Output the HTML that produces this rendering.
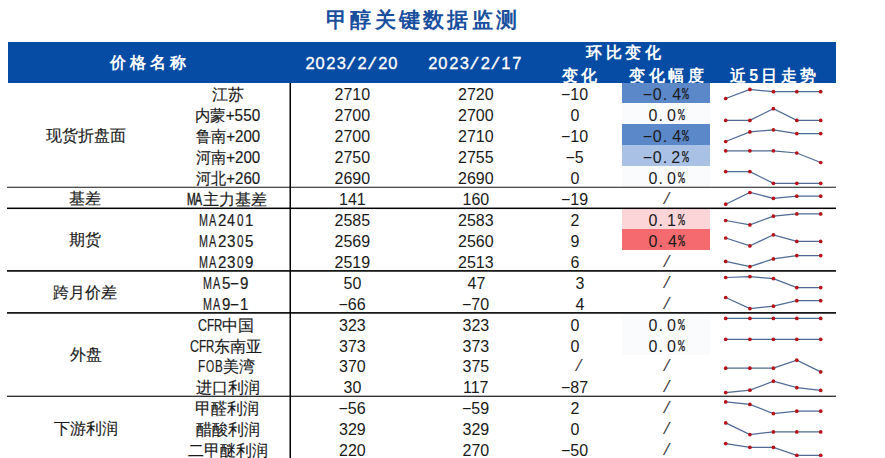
<!DOCTYPE html>
<html><head><meta charset="utf-8"><style>
html,body{margin:0;padding:0;background:#fff;width:885px;height:458px;overflow:hidden;position:relative}
body{font-family:"Liberation Sans",sans-serif}
.a{position:absolute;white-space:nowrap;line-height:20px;transform-origin:0 0}
</style></head><body>

<div class="a" style="left:8px;top:41.5px;width:828px;height:41.5px;background:#064ca5"></div>
<div class="a" style="left:326.00px;top:9.50px;font:bold 21px 'Liberation Sans',sans-serif;color:#1a4f9e;line-height:20px;letter-spacing:3.29px;">甲醇关键数据监测</div>
<div class="a" style="left:110.10px;top:53.10px;font:bold 16px 'Liberation Sans',sans-serif;color:#fff;line-height:20px;letter-spacing:4.10px;">价格名称</div>
<div class="a" style="left:305.50px;top:53.30px;font:16.5px 'Liberation Sans',sans-serif;color:#fff;-webkit-text-stroke:0.3px #fff;line-height:20px;">2</div>
<div class="a" style="left:315.40px;top:53.30px;font:16.5px 'Liberation Sans',sans-serif;color:#fff;-webkit-text-stroke:0.3px #fff;line-height:20px;">0</div>
<div class="a" style="left:326.30px;top:53.30px;font:16.5px 'Liberation Sans',sans-serif;color:#fff;-webkit-text-stroke:0.3px #fff;line-height:20px;">2</div>
<div class="a" style="left:336.70px;top:53.30px;font:16.5px 'Liberation Sans',sans-serif;color:#fff;-webkit-text-stroke:0.3px #fff;line-height:20px;">3</div>
<div class="a" style="left:346.10px;top:53.30px;font:17px 'Liberation Mono',monospace;color:#fff;-webkit-text-stroke:0.4px #fff;margin-top:2px;line-height:20px;">/</div>
<div class="a" style="left:357.50px;top:53.30px;font:16.5px 'Liberation Sans',sans-serif;color:#fff;-webkit-text-stroke:0.3px #fff;line-height:20px;">2</div>
<div class="a" style="left:366.90px;top:53.30px;font:17px 'Liberation Mono',monospace;color:#fff;-webkit-text-stroke:0.4px #fff;margin-top:2px;line-height:20px;">/</div>
<div class="a" style="left:378.30px;top:53.30px;font:16.5px 'Liberation Sans',sans-serif;color:#fff;-webkit-text-stroke:0.3px #fff;line-height:20px;">2</div>
<div class="a" style="left:388.20px;top:53.30px;font:16.5px 'Liberation Sans',sans-serif;color:#fff;-webkit-text-stroke:0.3px #fff;line-height:20px;">0</div>
<div class="a" style="left:428.35px;top:53.30px;font:16.5px 'Liberation Sans',sans-serif;color:#fff;-webkit-text-stroke:0.3px #fff;line-height:20px;">2</div>
<div class="a" style="left:438.35px;top:53.30px;font:16.5px 'Liberation Sans',sans-serif;color:#fff;-webkit-text-stroke:0.3px #fff;line-height:20px;">0</div>
<div class="a" style="left:449.35px;top:53.30px;font:16.5px 'Liberation Sans',sans-serif;color:#fff;-webkit-text-stroke:0.3px #fff;line-height:20px;">2</div>
<div class="a" style="left:459.85px;top:53.30px;font:16.5px 'Liberation Sans',sans-serif;color:#fff;-webkit-text-stroke:0.3px #fff;line-height:20px;">3</div>
<div class="a" style="left:469.35px;top:53.30px;font:17px 'Liberation Mono',monospace;color:#fff;-webkit-text-stroke:0.4px #fff;margin-top:2px;line-height:20px;">/</div>
<div class="a" style="left:480.85px;top:53.30px;font:16.5px 'Liberation Sans',sans-serif;color:#fff;-webkit-text-stroke:0.3px #fff;line-height:20px;">2</div>
<div class="a" style="left:490.35px;top:53.30px;font:17px 'Liberation Mono',monospace;color:#fff;-webkit-text-stroke:0.4px #fff;margin-top:2px;line-height:20px;">/</div>
<div class="a" style="left:501.35px;top:53.30px;font:16.5px 'Liberation Sans',sans-serif;color:#fff;-webkit-text-stroke:0.3px #fff;line-height:20px;">1</div>
<div class="a" style="left:512.35px;top:53.30px;font:16.5px 'Liberation Sans',sans-serif;color:#fff;-webkit-text-stroke:0.3px #fff;line-height:20px;">7</div>
<div class="a" style="left:585.70px;top:43.00px;font:bold 16px 'Liberation Sans',sans-serif;color:#fff;line-height:20px;letter-spacing:3.83px;">环比变化</div>
<div class="a" style="left:561.80px;top:66.20px;font:bold 16px 'Liberation Sans',sans-serif;color:#fff;line-height:20px;letter-spacing:3.20px;">变化</div>
<div class="a" style="left:628.60px;top:66.20px;font:bold 16px 'Liberation Sans',sans-serif;color:#fff;line-height:20px;letter-spacing:3.93px;">变化幅度</div>
<div class="a" style="left:730.10px;top:66.10px;font:bold 16px 'Liberation Sans',sans-serif;color:#fff;line-height:20px;letter-spacing:3.22px;">近5日走势</div>
<div class="a" style="left:622px;top:82.50px;width:88px;height:20.93px;background:#5b88c9"></div>
<div class="a" style="left:622px;top:103.43px;width:88px;height:20.93px;background:#fafbfd"></div>
<div class="a" style="left:622px;top:124.36px;width:88px;height:20.93px;background:#5b88c9"></div>
<div class="a" style="left:622px;top:145.29px;width:88px;height:20.93px;background:#a9c1e5"></div>
<div class="a" style="left:622px;top:166.22px;width:88px;height:20.93px;background:#fafbfd"></div>
<div class="a" style="left:622px;top:208.08px;width:88px;height:20.93px;background:#fbd5d8"></div>
<div class="a" style="left:622px;top:229.01px;width:88px;height:20.93px;background:#f46a6e"></div>
<div class="a" style="left:622px;top:312.73px;width:88px;height:20.93px;background:#fafbfd"></div>
<div class="a" style="left:622px;top:333.66px;width:88px;height:20.93px;background:#fafbfd"></div>
<svg class="a" style="left:0;top:0" width="885" height="458"><rect x="7" y="186.7" width="829" height="1.2" fill="#3c3c3c"/><rect x="7" y="207.55" width="829" height="1.5" fill="#000"/><rect x="7" y="270.1" width="829" height="1.6" fill="#000"/><rect x="7" y="312.1" width="829" height="1.6" fill="#000"/><rect x="7" y="395.65" width="829" height="1.3" fill="#2a2a2a"/><rect x="289.5" y="83" width="1.5" height="376" fill="#000"/></svg>
<div class="a" style="left:45.80px;top:126.22px;font:500 16px 'Liberation Sans',sans-serif;color:#1a1a1a;-webkit-text-stroke:0.15px #1a1a1a;line-height:20px;">现货折盘面</div>
<div class="a" style="left:69.30px;top:188.52px;font:500 16px 'Liberation Sans',sans-serif;color:#1a1a1a;-webkit-text-stroke:0.15px #1a1a1a;line-height:20px;">基差</div>
<div class="a" style="left:68.80px;top:230.38px;font:500 16px 'Liberation Sans',sans-serif;color:#1a1a1a;-webkit-text-stroke:0.15px #1a1a1a;line-height:20px;">期货</div>
<div class="a" style="left:53.30px;top:282.70px;font:500 16px 'Liberation Sans',sans-serif;color:#1a1a1a;-webkit-text-stroke:0.15px #1a1a1a;line-height:20px;">跨月价差</div>
<div class="a" style="left:69.80px;top:345.49px;font:500 16px 'Liberation Sans',sans-serif;color:#1a1a1a;-webkit-text-stroke:0.15px #1a1a1a;line-height:20px;">外盘</div>
<div class="a" style="left:53.80px;top:418.74px;font:500 16px 'Liberation Sans',sans-serif;color:#1a1a1a;-webkit-text-stroke:0.15px #1a1a1a;line-height:20px;">下游利润</div>
<div class="a" style="left:211.80px;top:85.40px;font:500 16px 'Liberation Sans',sans-serif;color:#1a1a1a;-webkit-text-stroke:0.15px #1a1a1a;line-height:20px;">江苏</div>
<div class="a" style="left:334.50px;top:85.40px;font:16px 'Liberation Sans',sans-serif;color:#1a1a1a;line-height:20px;">2710</div>
<div class="a" style="left:458.00px;top:85.40px;font:16px 'Liberation Sans',sans-serif;color:#1a1a1a;line-height:20px;">2720</div>
<div class="a" style="left:561.00px;top:85.40px;font:16px 'Liberation Sans',sans-serif;color:#1a1a1a;line-height:20px;">−10</div>
<div class="a" style="left:642.80px;top:85.40px;font:16px 'Liberation Sans',sans-serif;color:#1a1a1a;line-height:20px;">−</div>
<div class="a" style="left:652.80px;top:85.40px;font:16px 'Liberation Sans',sans-serif;color:#1a1a1a;line-height:20px;">0</div>
<div class="a" style="left:662.70px;top:85.40px;font:16px 'Liberation Sans',sans-serif;color:#1a1a1a;line-height:20px;">.</div>
<div class="a" style="left:672.30px;top:85.40px;font:16px 'Liberation Sans',sans-serif;color:#1a1a1a;line-height:20px;">4</div>
<div class="a" style="left:682.10px;top:85.40px;font:16px 'Liberation Mono',monospace;color:#1a1a1a;-webkit-text-stroke:0.25px #1a1a1a;line-height:20px;transform:scaleX(0.7100);">%</div>
<div class="a" style="left:194.54px;top:106.33px;font:500 16px 'Liberation Sans',sans-serif;color:#1a1a1a;-webkit-text-stroke:0.15px #1a1a1a;line-height:20px;transform:scaleX(0.9582);">内蒙+550</div>
<div class="a" style="left:334.50px;top:106.33px;font:16px 'Liberation Sans',sans-serif;color:#1a1a1a;line-height:20px;">2700</div>
<div class="a" style="left:458.00px;top:106.33px;font:16px 'Liberation Sans',sans-serif;color:#1a1a1a;line-height:20px;">2700</div>
<div class="a" style="left:570.50px;top:106.33px;font:16px 'Liberation Sans',sans-serif;color:#1a1a1a;line-height:20px;">0</div>
<div class="a" style="left:648.50px;top:106.33px;font:16px 'Liberation Sans',sans-serif;color:#1a1a1a;line-height:20px;">0</div>
<div class="a" style="left:658.40px;top:106.33px;font:16px 'Liberation Sans',sans-serif;color:#1a1a1a;line-height:20px;">.</div>
<div class="a" style="left:667.00px;top:106.33px;font:16px 'Liberation Sans',sans-serif;color:#1a1a1a;line-height:20px;">0</div>
<div class="a" style="left:677.80px;top:106.33px;font:16px 'Liberation Mono',monospace;color:#1a1a1a;-webkit-text-stroke:0.25px #1a1a1a;line-height:20px;transform:scaleX(0.7100);">%</div>
<div class="a" style="left:195.50px;top:127.26px;font:500 16px 'Liberation Sans',sans-serif;color:#1a1a1a;-webkit-text-stroke:0.15px #1a1a1a;line-height:20px;transform:scaleX(0.9441);">鲁南+200</div>
<div class="a" style="left:334.50px;top:127.26px;font:16px 'Liberation Sans',sans-serif;color:#1a1a1a;line-height:20px;">2700</div>
<div class="a" style="left:458.00px;top:127.26px;font:16px 'Liberation Sans',sans-serif;color:#1a1a1a;line-height:20px;">2710</div>
<div class="a" style="left:561.00px;top:127.26px;font:16px 'Liberation Sans',sans-serif;color:#1a1a1a;line-height:20px;">−10</div>
<div class="a" style="left:642.80px;top:127.26px;font:16px 'Liberation Sans',sans-serif;color:#1a1a1a;line-height:20px;">−</div>
<div class="a" style="left:652.80px;top:127.26px;font:16px 'Liberation Sans',sans-serif;color:#1a1a1a;line-height:20px;">0</div>
<div class="a" style="left:662.70px;top:127.26px;font:16px 'Liberation Sans',sans-serif;color:#1a1a1a;line-height:20px;">.</div>
<div class="a" style="left:672.30px;top:127.26px;font:16px 'Liberation Sans',sans-serif;color:#1a1a1a;line-height:20px;">4</div>
<div class="a" style="left:682.10px;top:127.26px;font:16px 'Liberation Mono',monospace;color:#1a1a1a;-webkit-text-stroke:0.25px #1a1a1a;line-height:20px;transform:scaleX(0.7100);">%</div>
<div class="a" style="left:195.50px;top:148.19px;font:500 16px 'Liberation Sans',sans-serif;color:#1a1a1a;-webkit-text-stroke:0.15px #1a1a1a;line-height:20px;transform:scaleX(0.9441);">河南+200</div>
<div class="a" style="left:334.50px;top:148.19px;font:16px 'Liberation Sans',sans-serif;color:#1a1a1a;line-height:20px;">2750</div>
<div class="a" style="left:458.00px;top:148.19px;font:16px 'Liberation Sans',sans-serif;color:#1a1a1a;line-height:20px;">2755</div>
<div class="a" style="left:565.50px;top:148.19px;font:16px 'Liberation Sans',sans-serif;color:#1a1a1a;line-height:20px;">−5</div>
<div class="a" style="left:642.80px;top:148.19px;font:16px 'Liberation Sans',sans-serif;color:#1a1a1a;line-height:20px;">−</div>
<div class="a" style="left:652.80px;top:148.19px;font:16px 'Liberation Sans',sans-serif;color:#1a1a1a;line-height:20px;">0</div>
<div class="a" style="left:662.70px;top:148.19px;font:16px 'Liberation Sans',sans-serif;color:#1a1a1a;line-height:20px;">.</div>
<div class="a" style="left:671.30px;top:148.19px;font:16px 'Liberation Sans',sans-serif;color:#1a1a1a;line-height:20px;">2</div>
<div class="a" style="left:682.10px;top:148.19px;font:16px 'Liberation Mono',monospace;color:#1a1a1a;-webkit-text-stroke:0.25px #1a1a1a;line-height:20px;transform:scaleX(0.7100);">%</div>
<div class="a" style="left:195.50px;top:169.12px;font:500 16px 'Liberation Sans',sans-serif;color:#1a1a1a;-webkit-text-stroke:0.15px #1a1a1a;line-height:20px;transform:scaleX(0.9441);">河北+260</div>
<div class="a" style="left:334.50px;top:169.12px;font:16px 'Liberation Sans',sans-serif;color:#1a1a1a;line-height:20px;">2690</div>
<div class="a" style="left:458.00px;top:169.12px;font:16px 'Liberation Sans',sans-serif;color:#1a1a1a;line-height:20px;">2690</div>
<div class="a" style="left:570.50px;top:169.12px;font:16px 'Liberation Sans',sans-serif;color:#1a1a1a;line-height:20px;">0</div>
<div class="a" style="left:648.50px;top:169.12px;font:16px 'Liberation Sans',sans-serif;color:#1a1a1a;line-height:20px;">0</div>
<div class="a" style="left:658.40px;top:169.12px;font:16px 'Liberation Sans',sans-serif;color:#1a1a1a;line-height:20px;">.</div>
<div class="a" style="left:667.00px;top:169.12px;font:16px 'Liberation Sans',sans-serif;color:#1a1a1a;line-height:20px;">0</div>
<div class="a" style="left:677.80px;top:169.12px;font:16px 'Liberation Mono',monospace;color:#1a1a1a;-webkit-text-stroke:0.25px #1a1a1a;line-height:20px;transform:scaleX(0.7100);">%</div>
<div class="a" style="left:186.50px;top:190.05px;font:16px 'Liberation Sans',sans-serif;color:#1a1a1a;-webkit-text-stroke:0.5px #1a1a1a;line-height:20px;transform:scaleX(0.6545);">M</div>
<div class="a" style="left:194.65px;top:190.05px;font:16px 'Liberation Sans',sans-serif;color:#1a1a1a;-webkit-text-stroke:0.5px #1a1a1a;line-height:20px;transform:scaleX(0.6545);">A</div>
<div class="a" style="left:202.50px;top:190.05px;font:500 16px 'Liberation Sans',sans-serif;color:#1a1a1a;-webkit-text-stroke:0.15px #1a1a1a;line-height:20px;">主力基差</div>
<div class="a" style="left:339.00px;top:190.05px;font:16px 'Liberation Sans',sans-serif;color:#1a1a1a;line-height:20px;">141</div>
<div class="a" style="left:462.50px;top:190.05px;font:16px 'Liberation Sans',sans-serif;color:#1a1a1a;line-height:20px;">160</div>
<div class="a" style="left:561.00px;top:190.05px;font:16px 'Liberation Sans',sans-serif;color:#1a1a1a;line-height:20px;">−19</div>
<div class="a" style="left:662.00px;top:190.05px;font:16px 'Liberation Mono',monospace;color:#444;line-height:20px;">/</div>
<div class="a" style="left:199.43px;top:210.98px;font:16px 'Liberation Sans',sans-serif;color:#1a1a1a;-webkit-text-stroke:0.2px #1a1a1a;line-height:20px;transform:scaleX(0.6727);">M</div>
<div class="a" style="left:209.13px;top:210.98px;font:16px 'Liberation Sans',sans-serif;color:#1a1a1a;-webkit-text-stroke:0.2px #1a1a1a;line-height:20px;transform:scaleX(0.6818);">A</div>
<div class="a" style="left:217.72px;top:210.98px;font:16px 'Liberation Sans',sans-serif;color:#1a1a1a;-webkit-text-stroke:0.2px #1a1a1a;line-height:20px;transform:scaleX(0.9429);">2</div>
<div class="a" style="left:227.04px;top:210.98px;font:16px 'Liberation Sans',sans-serif;color:#1a1a1a;-webkit-text-stroke:0.2px #1a1a1a;line-height:20px;transform:scaleX(0.8889);">4</div>
<div class="a" style="left:236.82px;top:210.98px;font:16px 'Liberation Sans',sans-serif;color:#1a1a1a;-webkit-text-stroke:0.2px #1a1a1a;line-height:20px;transform:scaleX(0.7333);">0</div>
<div class="a" style="left:244.96px;top:210.98px;font:16px 'Liberation Sans',sans-serif;color:#1a1a1a;-webkit-text-stroke:0.2px #1a1a1a;line-height:20px;transform:scaleX(0.9429);">1</div>
<div class="a" style="left:334.50px;top:210.98px;font:16px 'Liberation Sans',sans-serif;color:#1a1a1a;line-height:20px;">2585</div>
<div class="a" style="left:458.00px;top:210.98px;font:16px 'Liberation Sans',sans-serif;color:#1a1a1a;line-height:20px;">2583</div>
<div class="a" style="left:570.50px;top:210.98px;font:16px 'Liberation Sans',sans-serif;color:#1a1a1a;line-height:20px;">2</div>
<div class="a" style="left:648.50px;top:210.98px;font:16px 'Liberation Sans',sans-serif;color:#1a1a1a;line-height:20px;">0</div>
<div class="a" style="left:658.40px;top:210.98px;font:16px 'Liberation Sans',sans-serif;color:#1a1a1a;line-height:20px;">.</div>
<div class="a" style="left:667.00px;top:210.98px;font:16px 'Liberation Sans',sans-serif;color:#1a1a1a;line-height:20px;">1</div>
<div class="a" style="left:677.80px;top:210.98px;font:16px 'Liberation Mono',monospace;color:#1a1a1a;-webkit-text-stroke:0.25px #1a1a1a;line-height:20px;transform:scaleX(0.7100);">%</div>
<div class="a" style="left:199.43px;top:231.91px;font:16px 'Liberation Sans',sans-serif;color:#1a1a1a;-webkit-text-stroke:0.2px #1a1a1a;line-height:20px;transform:scaleX(0.6727);">M</div>
<div class="a" style="left:209.13px;top:231.91px;font:16px 'Liberation Sans',sans-serif;color:#1a1a1a;-webkit-text-stroke:0.2px #1a1a1a;line-height:20px;transform:scaleX(0.6818);">A</div>
<div class="a" style="left:217.72px;top:231.91px;font:16px 'Liberation Sans',sans-serif;color:#1a1a1a;-webkit-text-stroke:0.2px #1a1a1a;line-height:20px;transform:scaleX(0.9429);">2</div>
<div class="a" style="left:226.80px;top:231.91px;font:16px 'Liberation Sans',sans-serif;color:#1a1a1a;-webkit-text-stroke:0.2px #1a1a1a;line-height:20px;transform:scaleX(0.9429);">3</div>
<div class="a" style="left:236.82px;top:231.91px;font:16px 'Liberation Sans',sans-serif;color:#1a1a1a;-webkit-text-stroke:0.2px #1a1a1a;line-height:20px;transform:scaleX(0.7333);">0</div>
<div class="a" style="left:244.96px;top:231.91px;font:16px 'Liberation Sans',sans-serif;color:#1a1a1a;-webkit-text-stroke:0.2px #1a1a1a;line-height:20px;transform:scaleX(0.9429);">5</div>
<div class="a" style="left:334.50px;top:231.91px;font:16px 'Liberation Sans',sans-serif;color:#1a1a1a;line-height:20px;">2569</div>
<div class="a" style="left:458.00px;top:231.91px;font:16px 'Liberation Sans',sans-serif;color:#1a1a1a;line-height:20px;">2560</div>
<div class="a" style="left:570.50px;top:231.91px;font:16px 'Liberation Sans',sans-serif;color:#1a1a1a;line-height:20px;">9</div>
<div class="a" style="left:648.50px;top:231.91px;font:16px 'Liberation Sans',sans-serif;color:#1a1a1a;line-height:20px;">0</div>
<div class="a" style="left:658.40px;top:231.91px;font:16px 'Liberation Sans',sans-serif;color:#1a1a1a;line-height:20px;">.</div>
<div class="a" style="left:668.00px;top:231.91px;font:16px 'Liberation Sans',sans-serif;color:#1a1a1a;line-height:20px;">4</div>
<div class="a" style="left:677.80px;top:231.91px;font:16px 'Liberation Mono',monospace;color:#1a1a1a;-webkit-text-stroke:0.25px #1a1a1a;line-height:20px;transform:scaleX(0.7100);">%</div>
<div class="a" style="left:199.43px;top:252.84px;font:16px 'Liberation Sans',sans-serif;color:#1a1a1a;-webkit-text-stroke:0.2px #1a1a1a;line-height:20px;transform:scaleX(0.6727);">M</div>
<div class="a" style="left:209.13px;top:252.84px;font:16px 'Liberation Sans',sans-serif;color:#1a1a1a;-webkit-text-stroke:0.2px #1a1a1a;line-height:20px;transform:scaleX(0.6818);">A</div>
<div class="a" style="left:217.72px;top:252.84px;font:16px 'Liberation Sans',sans-serif;color:#1a1a1a;-webkit-text-stroke:0.2px #1a1a1a;line-height:20px;transform:scaleX(0.9429);">2</div>
<div class="a" style="left:226.80px;top:252.84px;font:16px 'Liberation Sans',sans-serif;color:#1a1a1a;-webkit-text-stroke:0.2px #1a1a1a;line-height:20px;transform:scaleX(0.9429);">3</div>
<div class="a" style="left:236.82px;top:252.84px;font:16px 'Liberation Sans',sans-serif;color:#1a1a1a;-webkit-text-stroke:0.2px #1a1a1a;line-height:20px;transform:scaleX(0.7333);">0</div>
<div class="a" style="left:244.96px;top:252.84px;font:16px 'Liberation Sans',sans-serif;color:#1a1a1a;-webkit-text-stroke:0.2px #1a1a1a;line-height:20px;transform:scaleX(0.9429);">9</div>
<div class="a" style="left:334.50px;top:252.84px;font:16px 'Liberation Sans',sans-serif;color:#1a1a1a;line-height:20px;">2519</div>
<div class="a" style="left:458.00px;top:252.84px;font:16px 'Liberation Sans',sans-serif;color:#1a1a1a;line-height:20px;">2513</div>
<div class="a" style="left:570.50px;top:252.84px;font:16px 'Liberation Sans',sans-serif;color:#1a1a1a;line-height:20px;">6</div>
<div class="a" style="left:662.00px;top:252.84px;font:16px 'Liberation Mono',monospace;color:#444;line-height:20px;">/</div>
<div class="a" style="left:203.33px;top:273.77px;font:16px 'Liberation Sans',sans-serif;color:#1a1a1a;-webkit-text-stroke:0.2px #1a1a1a;line-height:20px;transform:scaleX(0.6727);">M</div>
<div class="a" style="left:213.03px;top:273.77px;font:16px 'Liberation Sans',sans-serif;color:#1a1a1a;-webkit-text-stroke:0.2px #1a1a1a;line-height:20px;transform:scaleX(0.6818);">A</div>
<div class="a" style="left:221.62px;top:273.77px;font:16px 'Liberation Sans',sans-serif;color:#1a1a1a;-webkit-text-stroke:0.2px #1a1a1a;line-height:20px;transform:scaleX(0.9429);">5</div>
<div class="a" style="left:230.25px;top:273.77px;font:16px 'Liberation Sans',sans-serif;color:#1a1a1a;-webkit-text-stroke:0.2px #1a1a1a;line-height:20px;transform:scaleX(0.9375);">−</div>
<div class="a" style="left:239.78px;top:273.77px;font:16px 'Liberation Sans',sans-serif;color:#1a1a1a;-webkit-text-stroke:0.2px #1a1a1a;line-height:20px;transform:scaleX(0.9429);">9</div>
<div class="a" style="left:343.50px;top:273.77px;font:16px 'Liberation Sans',sans-serif;color:#1a1a1a;line-height:20px;">50</div>
<div class="a" style="left:467.50px;top:273.77px;font:16px 'Liberation Sans',sans-serif;color:#1a1a1a;line-height:20px;">47</div>
<div class="a" style="left:575.50px;top:273.77px;font:16px 'Liberation Sans',sans-serif;color:#1a1a1a;line-height:20px;">3</div>
<div class="a" style="left:662.00px;top:273.77px;font:16px 'Liberation Mono',monospace;color:#444;line-height:20px;">/</div>
<div class="a" style="left:203.33px;top:294.70px;font:16px 'Liberation Sans',sans-serif;color:#1a1a1a;-webkit-text-stroke:0.2px #1a1a1a;line-height:20px;transform:scaleX(0.6727);">M</div>
<div class="a" style="left:213.03px;top:294.70px;font:16px 'Liberation Sans',sans-serif;color:#1a1a1a;-webkit-text-stroke:0.2px #1a1a1a;line-height:20px;transform:scaleX(0.6818);">A</div>
<div class="a" style="left:221.62px;top:294.70px;font:16px 'Liberation Sans',sans-serif;color:#1a1a1a;-webkit-text-stroke:0.2px #1a1a1a;line-height:20px;transform:scaleX(0.9429);">9</div>
<div class="a" style="left:230.25px;top:294.70px;font:16px 'Liberation Sans',sans-serif;color:#1a1a1a;-webkit-text-stroke:0.2px #1a1a1a;line-height:20px;transform:scaleX(0.9375);">−</div>
<div class="a" style="left:239.78px;top:294.70px;font:16px 'Liberation Sans',sans-serif;color:#1a1a1a;-webkit-text-stroke:0.2px #1a1a1a;line-height:20px;transform:scaleX(0.9429);">1</div>
<div class="a" style="left:338.50px;top:294.70px;font:16px 'Liberation Sans',sans-serif;color:#1a1a1a;line-height:20px;">−66</div>
<div class="a" style="left:462.00px;top:294.70px;font:16px 'Liberation Sans',sans-serif;color:#1a1a1a;line-height:20px;">−70</div>
<div class="a" style="left:575.50px;top:294.70px;font:16px 'Liberation Sans',sans-serif;color:#1a1a1a;line-height:20px;">4</div>
<div class="a" style="left:662.00px;top:294.70px;font:16px 'Liberation Mono',monospace;color:#444;line-height:20px;">/</div>
<div class="a" style="left:197.72px;top:315.63px;font:16px 'Liberation Sans',sans-serif;color:#1a1a1a;-webkit-text-stroke:0.2px #1a1a1a;line-height:20px;transform:scaleX(0.7800);">C</div>
<div class="a" style="left:206.86px;top:315.63px;font:16px 'Liberation Sans',sans-serif;color:#1a1a1a;-webkit-text-stroke:0.2px #1a1a1a;line-height:20px;transform:scaleX(0.7375);">F</div>
<div class="a" style="left:214.18px;top:315.63px;font:16px 'Liberation Sans',sans-serif;color:#1a1a1a;-webkit-text-stroke:0.2px #1a1a1a;line-height:20px;transform:scaleX(0.7200);">R</div>
<div class="a" style="left:221.90px;top:315.63px;font:500 16px 'Liberation Sans',sans-serif;color:#1a1a1a;-webkit-text-stroke:0.15px #1a1a1a;line-height:20px;">中国</div>
<div class="a" style="left:339.00px;top:315.63px;font:16px 'Liberation Sans',sans-serif;color:#1a1a1a;line-height:20px;">323</div>
<div class="a" style="left:462.50px;top:315.63px;font:16px 'Liberation Sans',sans-serif;color:#1a1a1a;line-height:20px;">323</div>
<div class="a" style="left:570.50px;top:315.63px;font:16px 'Liberation Sans',sans-serif;color:#1a1a1a;line-height:20px;">0</div>
<div class="a" style="left:648.50px;top:315.63px;font:16px 'Liberation Sans',sans-serif;color:#1a1a1a;line-height:20px;">0</div>
<div class="a" style="left:658.40px;top:315.63px;font:16px 'Liberation Sans',sans-serif;color:#1a1a1a;line-height:20px;">.</div>
<div class="a" style="left:667.00px;top:315.63px;font:16px 'Liberation Sans',sans-serif;color:#1a1a1a;line-height:20px;">0</div>
<div class="a" style="left:677.80px;top:315.63px;font:16px 'Liberation Mono',monospace;color:#1a1a1a;-webkit-text-stroke:0.25px #1a1a1a;line-height:20px;transform:scaleX(0.7100);">%</div>
<div class="a" style="left:189.87px;top:336.56px;font:16px 'Liberation Sans',sans-serif;color:#1a1a1a;-webkit-text-stroke:0.2px #1a1a1a;line-height:20px;transform:scaleX(0.7800);">C</div>
<div class="a" style="left:199.06px;top:336.56px;font:16px 'Liberation Sans',sans-serif;color:#1a1a1a;-webkit-text-stroke:0.2px #1a1a1a;line-height:20px;transform:scaleX(0.7375);">F</div>
<div class="a" style="left:206.28px;top:336.56px;font:16px 'Liberation Sans',sans-serif;color:#1a1a1a;-webkit-text-stroke:0.2px #1a1a1a;line-height:20px;transform:scaleX(0.7200);">R</div>
<div class="a" style="left:213.60px;top:336.56px;font:500 16px 'Liberation Sans',sans-serif;color:#1a1a1a;-webkit-text-stroke:0.15px #1a1a1a;line-height:20px;">东南亚</div>
<div class="a" style="left:339.00px;top:336.56px;font:16px 'Liberation Sans',sans-serif;color:#1a1a1a;line-height:20px;">373</div>
<div class="a" style="left:462.50px;top:336.56px;font:16px 'Liberation Sans',sans-serif;color:#1a1a1a;line-height:20px;">373</div>
<div class="a" style="left:570.50px;top:336.56px;font:16px 'Liberation Sans',sans-serif;color:#1a1a1a;line-height:20px;">0</div>
<div class="a" style="left:648.50px;top:336.56px;font:16px 'Liberation Sans',sans-serif;color:#1a1a1a;line-height:20px;">0</div>
<div class="a" style="left:658.40px;top:336.56px;font:16px 'Liberation Sans',sans-serif;color:#1a1a1a;line-height:20px;">.</div>
<div class="a" style="left:667.00px;top:336.56px;font:16px 'Liberation Sans',sans-serif;color:#1a1a1a;line-height:20px;">0</div>
<div class="a" style="left:677.80px;top:336.56px;font:16px 'Liberation Mono',monospace;color:#1a1a1a;-webkit-text-stroke:0.25px #1a1a1a;line-height:20px;transform:scaleX(0.7100);">%</div>
<div class="a" style="left:198.36px;top:357.49px;font:16px 'Liberation Sans',sans-serif;color:#1a1a1a;-webkit-text-stroke:0.2px #1a1a1a;line-height:20px;transform:scaleX(0.7375);">F</div>
<div class="a" style="left:206.35px;top:357.49px;font:16px 'Liberation Sans',sans-serif;color:#1a1a1a;-webkit-text-stroke:0.2px #1a1a1a;line-height:20px;transform:scaleX(0.6545);">O</div>
<div class="a" style="left:214.78px;top:357.49px;font:16px 'Liberation Sans',sans-serif;color:#1a1a1a;-webkit-text-stroke:0.2px #1a1a1a;line-height:20px;transform:scaleX(0.7222);">B</div>
<div class="a" style="left:223.20px;top:357.49px;font:500 16px 'Liberation Sans',sans-serif;color:#1a1a1a;-webkit-text-stroke:0.15px #1a1a1a;line-height:20px;">美湾</div>
<div class="a" style="left:339.00px;top:357.49px;font:16px 'Liberation Sans',sans-serif;color:#1a1a1a;line-height:20px;">370</div>
<div class="a" style="left:462.50px;top:357.49px;font:16px 'Liberation Sans',sans-serif;color:#1a1a1a;line-height:20px;">375</div>
<div class="a" style="left:574.00px;top:357.49px;font:16px 'Liberation Mono',monospace;color:#444;line-height:20px;">/</div>
<div class="a" style="left:662.00px;top:357.49px;font:16px 'Liberation Mono',monospace;color:#444;line-height:20px;">/</div>
<div class="a" style="left:195.80px;top:378.42px;font:500 16px 'Liberation Sans',sans-serif;color:#1a1a1a;-webkit-text-stroke:0.15px #1a1a1a;line-height:20px;">进口利润</div>
<div class="a" style="left:343.50px;top:378.42px;font:16px 'Liberation Sans',sans-serif;color:#1a1a1a;line-height:20px;">30</div>
<div class="a" style="left:463.00px;top:378.42px;font:16px 'Liberation Sans',sans-serif;color:#1a1a1a;line-height:20px;">117</div>
<div class="a" style="left:561.00px;top:378.42px;font:16px 'Liberation Sans',sans-serif;color:#1a1a1a;line-height:20px;">−87</div>
<div class="a" style="left:662.00px;top:378.42px;font:16px 'Liberation Mono',monospace;color:#444;line-height:20px;">/</div>
<div class="a" style="left:195.30px;top:399.35px;font:500 16px 'Liberation Sans',sans-serif;color:#1a1a1a;-webkit-text-stroke:0.15px #1a1a1a;line-height:20px;">甲醛利润</div>
<div class="a" style="left:338.50px;top:399.35px;font:16px 'Liberation Sans',sans-serif;color:#1a1a1a;line-height:20px;">−56</div>
<div class="a" style="left:462.00px;top:399.35px;font:16px 'Liberation Sans',sans-serif;color:#1a1a1a;line-height:20px;">−59</div>
<div class="a" style="left:570.50px;top:399.35px;font:16px 'Liberation Sans',sans-serif;color:#1a1a1a;line-height:20px;">2</div>
<div class="a" style="left:662.00px;top:399.35px;font:16px 'Liberation Mono',monospace;color:#444;line-height:20px;">/</div>
<div class="a" style="left:195.80px;top:420.28px;font:500 16px 'Liberation Sans',sans-serif;color:#1a1a1a;-webkit-text-stroke:0.15px #1a1a1a;line-height:20px;">醋酸利润</div>
<div class="a" style="left:339.00px;top:420.28px;font:16px 'Liberation Sans',sans-serif;color:#1a1a1a;line-height:20px;">329</div>
<div class="a" style="left:462.50px;top:420.28px;font:16px 'Liberation Sans',sans-serif;color:#1a1a1a;line-height:20px;">329</div>
<div class="a" style="left:570.50px;top:420.28px;font:16px 'Liberation Sans',sans-serif;color:#1a1a1a;line-height:20px;">0</div>
<div class="a" style="left:662.00px;top:420.28px;font:16px 'Liberation Mono',monospace;color:#444;line-height:20px;">/</div>
<div class="a" style="left:187.80px;top:441.21px;font:500 16px 'Liberation Sans',sans-serif;color:#1a1a1a;-webkit-text-stroke:0.15px #1a1a1a;line-height:20px;">二甲醚利润</div>
<div class="a" style="left:339.00px;top:441.21px;font:16px 'Liberation Sans',sans-serif;color:#1a1a1a;line-height:20px;">220</div>
<div class="a" style="left:462.50px;top:441.21px;font:16px 'Liberation Sans',sans-serif;color:#1a1a1a;line-height:20px;">270</div>
<div class="a" style="left:561.00px;top:441.21px;font:16px 'Liberation Sans',sans-serif;color:#1a1a1a;line-height:20px;">−50</div>
<div class="a" style="left:662.00px;top:441.21px;font:16px 'Liberation Mono',monospace;color:#444;line-height:20px;">/</div>
<svg class="a" style="left:0;top:0" width="885" height="458" viewBox="0 0 885 458"><polyline points="725.7,98.5 749.9,89.4 773.4,91.7 796.8,91.7 820.7,91.7" fill="none" stroke="#4f6a94" stroke-width="1.25"/><polyline points="725.7,120.4 749.9,120.4 773.4,108.7 796.8,120.4 820.7,120.4" fill="none" stroke="#4f6a94" stroke-width="1.25"/><polyline points="725.7,141.5 749.9,131.9 773.4,129.8 796.8,133.6 820.7,133.6" fill="none" stroke="#4f6a94" stroke-width="1.25"/><polyline points="725.7,150.8 749.9,150.8 773.4,150.8 796.8,153.0 820.7,162.5" fill="none" stroke="#4f6a94" stroke-width="1.25"/><polyline points="725.7,171.6 749.9,171.6 773.4,183.3 796.8,183.3 820.7,183.3" fill="none" stroke="#4f6a94" stroke-width="1.25"/><polyline points="725.7,204.2 749.9,192.5 773.4,198.3 796.8,196.2 820.7,196.2" fill="none" stroke="#4f6a94" stroke-width="1.25"/><polyline points="725.7,220.5 749.9,224.9 773.4,216.2 796.8,213.9 820.7,213.9" fill="none" stroke="#4f6a94" stroke-width="1.25"/><polyline points="725.7,238.0 749.9,245.9 773.4,234.8 796.8,241.4 820.7,241.4" fill="none" stroke="#4f6a94" stroke-width="1.25"/><polyline points="725.7,261.4 749.9,266.6 773.4,258.9 796.8,255.6 820.7,255.6" fill="none" stroke="#4f6a94" stroke-width="1.25"/><polyline points="725.7,277.5 749.9,276.6 773.4,278.6 796.8,287.6 820.7,287.6" fill="none" stroke="#4f6a94" stroke-width="1.25"/><polyline points="725.7,297.5 749.9,308.6 773.4,306.2 796.8,300.7 820.7,300.7" fill="none" stroke="#4f6a94" stroke-width="1.25"/><polyline points="725.7,318.4 749.9,318.4 773.4,318.4 796.8,318.4 820.7,318.4" fill="none" stroke="#4f6a94" stroke-width="1.25"/><polyline points="725.7,339.3 749.9,339.3 773.4,339.3 796.8,339.3 820.7,339.3" fill="none" stroke="#4f6a94" stroke-width="1.25"/><polyline points="725.7,368.2 749.9,368.2 773.4,368.2 796.8,360.2 820.7,371.9" fill="none" stroke="#4f6a94" stroke-width="1.25"/><polyline points="725.7,392.6 749.9,390.2 773.4,381.2 796.8,387.7 820.7,390.4" fill="none" stroke="#4f6a94" stroke-width="1.25"/><polyline points="725.7,401.9 749.9,404.4 773.4,413.6 796.8,411.2 820.7,411.2" fill="none" stroke="#4f6a94" stroke-width="1.25"/><polyline points="725.7,422.9 749.9,434.6 773.4,431.9 796.8,431.9 820.7,431.9" fill="none" stroke="#4f6a94" stroke-width="1.25"/><polyline points="725.7,443.6 749.9,447.3 773.4,447.3 796.8,455.3 820.7,455.3" fill="none" stroke="#4f6a94" stroke-width="1.25"/><circle cx="725.7" cy="98.5" r="1.85" fill="#b5121b"/><circle cx="749.9" cy="89.4" r="1.85" fill="#b5121b"/><circle cx="773.4" cy="91.7" r="1.85" fill="#b5121b"/><circle cx="796.8" cy="91.7" r="1.85" fill="#b5121b"/><circle cx="820.7" cy="91.7" r="1.85" fill="#b5121b"/><circle cx="725.7" cy="120.4" r="1.85" fill="#b5121b"/><circle cx="749.9" cy="120.4" r="1.85" fill="#b5121b"/><circle cx="773.4" cy="108.7" r="1.85" fill="#b5121b"/><circle cx="796.8" cy="120.4" r="1.85" fill="#b5121b"/><circle cx="820.7" cy="120.4" r="1.85" fill="#b5121b"/><circle cx="725.7" cy="141.5" r="1.85" fill="#b5121b"/><circle cx="749.9" cy="131.9" r="1.85" fill="#b5121b"/><circle cx="773.4" cy="129.8" r="1.85" fill="#b5121b"/><circle cx="796.8" cy="133.6" r="1.85" fill="#b5121b"/><circle cx="820.7" cy="133.6" r="1.85" fill="#b5121b"/><circle cx="725.7" cy="150.8" r="1.85" fill="#b5121b"/><circle cx="749.9" cy="150.8" r="1.85" fill="#b5121b"/><circle cx="773.4" cy="150.8" r="1.85" fill="#b5121b"/><circle cx="796.8" cy="153.0" r="1.85" fill="#b5121b"/><circle cx="820.7" cy="162.5" r="1.85" fill="#b5121b"/><circle cx="725.7" cy="171.6" r="1.85" fill="#b5121b"/><circle cx="749.9" cy="171.6" r="1.85" fill="#b5121b"/><circle cx="773.4" cy="183.3" r="1.85" fill="#b5121b"/><circle cx="796.8" cy="183.3" r="1.85" fill="#b5121b"/><circle cx="820.7" cy="183.3" r="1.85" fill="#b5121b"/><circle cx="725.7" cy="204.2" r="1.85" fill="#b5121b"/><circle cx="749.9" cy="192.5" r="1.85" fill="#b5121b"/><circle cx="773.4" cy="198.3" r="1.85" fill="#b5121b"/><circle cx="796.8" cy="196.2" r="1.85" fill="#b5121b"/><circle cx="820.7" cy="196.2" r="1.85" fill="#b5121b"/><circle cx="725.7" cy="220.5" r="1.85" fill="#b5121b"/><circle cx="749.9" cy="224.9" r="1.85" fill="#b5121b"/><circle cx="773.4" cy="216.2" r="1.85" fill="#b5121b"/><circle cx="796.8" cy="213.9" r="1.85" fill="#b5121b"/><circle cx="820.7" cy="213.9" r="1.85" fill="#b5121b"/><circle cx="725.7" cy="238.0" r="1.85" fill="#b5121b"/><circle cx="749.9" cy="245.9" r="1.85" fill="#b5121b"/><circle cx="773.4" cy="234.8" r="1.85" fill="#b5121b"/><circle cx="796.8" cy="241.4" r="1.85" fill="#b5121b"/><circle cx="820.7" cy="241.4" r="1.85" fill="#b5121b"/><circle cx="725.7" cy="261.4" r="1.85" fill="#b5121b"/><circle cx="749.9" cy="266.6" r="1.85" fill="#b5121b"/><circle cx="773.4" cy="258.9" r="1.85" fill="#b5121b"/><circle cx="796.8" cy="255.6" r="1.85" fill="#b5121b"/><circle cx="820.7" cy="255.6" r="1.85" fill="#b5121b"/><circle cx="725.7" cy="277.5" r="1.85" fill="#b5121b"/><circle cx="749.9" cy="276.6" r="1.85" fill="#b5121b"/><circle cx="773.4" cy="278.6" r="1.85" fill="#b5121b"/><circle cx="796.8" cy="287.6" r="1.85" fill="#b5121b"/><circle cx="820.7" cy="287.6" r="1.85" fill="#b5121b"/><circle cx="725.7" cy="297.5" r="1.85" fill="#b5121b"/><circle cx="749.9" cy="308.6" r="1.85" fill="#b5121b"/><circle cx="773.4" cy="306.2" r="1.85" fill="#b5121b"/><circle cx="796.8" cy="300.7" r="1.85" fill="#b5121b"/><circle cx="820.7" cy="300.7" r="1.85" fill="#b5121b"/><circle cx="725.7" cy="318.4" r="1.85" fill="#b5121b"/><circle cx="749.9" cy="318.4" r="1.85" fill="#b5121b"/><circle cx="773.4" cy="318.4" r="1.85" fill="#b5121b"/><circle cx="796.8" cy="318.4" r="1.85" fill="#b5121b"/><circle cx="820.7" cy="318.4" r="1.85" fill="#b5121b"/><circle cx="725.7" cy="339.3" r="1.85" fill="#b5121b"/><circle cx="749.9" cy="339.3" r="1.85" fill="#b5121b"/><circle cx="773.4" cy="339.3" r="1.85" fill="#b5121b"/><circle cx="796.8" cy="339.3" r="1.85" fill="#b5121b"/><circle cx="820.7" cy="339.3" r="1.85" fill="#b5121b"/><circle cx="725.7" cy="368.2" r="1.85" fill="#b5121b"/><circle cx="749.9" cy="368.2" r="1.85" fill="#b5121b"/><circle cx="773.4" cy="368.2" r="1.85" fill="#b5121b"/><circle cx="796.8" cy="360.2" r="1.85" fill="#b5121b"/><circle cx="820.7" cy="371.9" r="1.85" fill="#b5121b"/><circle cx="725.7" cy="392.6" r="1.85" fill="#b5121b"/><circle cx="749.9" cy="390.2" r="1.85" fill="#b5121b"/><circle cx="773.4" cy="381.2" r="1.85" fill="#b5121b"/><circle cx="796.8" cy="387.7" r="1.85" fill="#b5121b"/><circle cx="820.7" cy="390.4" r="1.85" fill="#b5121b"/><circle cx="725.7" cy="401.9" r="1.85" fill="#b5121b"/><circle cx="749.9" cy="404.4" r="1.85" fill="#b5121b"/><circle cx="773.4" cy="413.6" r="1.85" fill="#b5121b"/><circle cx="796.8" cy="411.2" r="1.85" fill="#b5121b"/><circle cx="820.7" cy="411.2" r="1.85" fill="#b5121b"/><circle cx="725.7" cy="422.9" r="1.85" fill="#b5121b"/><circle cx="749.9" cy="434.6" r="1.85" fill="#b5121b"/><circle cx="773.4" cy="431.9" r="1.85" fill="#b5121b"/><circle cx="796.8" cy="431.9" r="1.85" fill="#b5121b"/><circle cx="820.7" cy="431.9" r="1.85" fill="#b5121b"/><circle cx="725.7" cy="443.6" r="1.85" fill="#b5121b"/><circle cx="749.9" cy="447.3" r="1.85" fill="#b5121b"/><circle cx="773.4" cy="447.3" r="1.85" fill="#b5121b"/><circle cx="796.8" cy="455.3" r="1.85" fill="#b5121b"/><circle cx="820.7" cy="455.3" r="1.85" fill="#b5121b"/></svg>
</body></html>
